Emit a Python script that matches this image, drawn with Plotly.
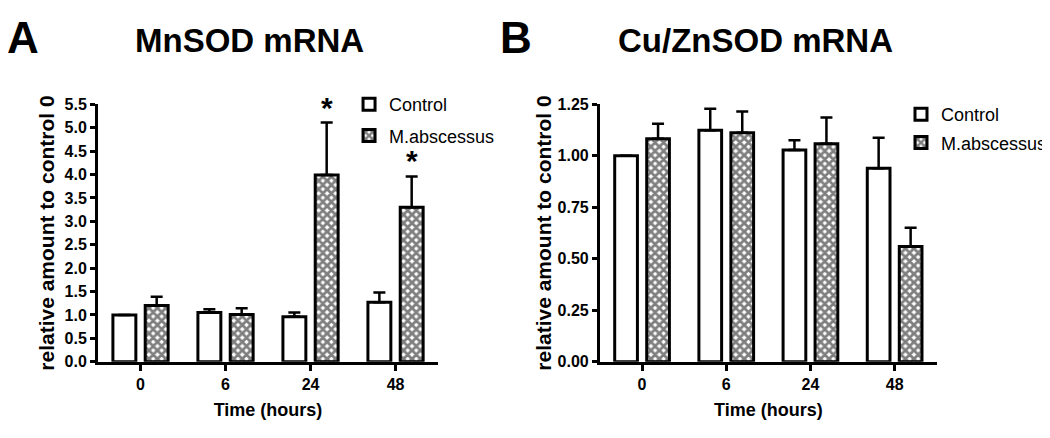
import plotly.graph_objects as go

# ---------------- data ----------------
times = ["0", "6", "24", "48"]

mn_control = [1.00, 1.05, 0.96, 1.27]
mn_control_err = [0.00, 0.07, 0.09, 0.21]
mn_mabs = [1.20, 1.01, 3.99, 3.30]
mn_mabs_err = [0.19, 0.13, 1.12, 0.66]
mn_star_times = ["24", "48"]

cu_control = [1.00, 1.124, 1.028, 0.940]
cu_control_err = [0.00, 0.105, 0.048, 0.148]
cu_mabs = [1.083, 1.112, 1.059, 0.560]
cu_mabs_err = [0.073, 0.103, 0.127, 0.090]

mn_yticks = [0.0, 0.5, 1.0, 1.5, 2.0, 2.5, 3.0, 3.5, 4.0, 4.5, 5.0, 5.5]
cu_yticks = [0.00, 0.25, 0.50, 0.75, 1.00, 1.25]

# ---------------- style ----------------
SANS = "Liberation Sans, Arial, sans-serif"
BARGAP = 0.24
GROUPGAP = 0.29

fig = go.Figure()


def add_pair(ctrl, ctrl_err, mabs, mabs_err, xa, ya, legend, tag):
    fig.add_trace(go.Bar(
        x=times, y=ctrl, name="Control", xaxis=xa, yaxis=ya, legend=legend,
        legendgroup="ctrl" + tag,
        marker=dict(color="white", line=dict(color="black", width=3)),
        error_y=dict(type="data", array=ctrl_err, arrayminus=[0] * len(ctrl),
                     symmetric=False, color="black", thickness=2.5, width=6),
    ))
    fig.add_trace(go.Bar(
        x=times, y=mabs, name="M.abscessus", xaxis=xa, yaxis=ya, legend=legend,
        legendgroup="mabs" + tag,
        marker=dict(color="white", line=dict(color="black", width=3),
                    pattern=dict(shape="x", fgcolor="black", bgcolor="white",
                                 size=6, solidity=0.72)),
        error_y=dict(type="data", array=mabs_err, arrayminus=[0] * len(mabs),
                     symmetric=False, color="black", thickness=2.5, width=6),
    ))


add_pair(mn_control, mn_control_err, mn_mabs, mn_mabs_err, "x", "y", "legend", "A")
add_pair(cu_control, cu_control_err, cu_mabs, cu_mabs_err, "x2", "y2", "legend2", "B")

axis_common = dict(showline=True, linewidth=3, linecolor="black", mirror=False,
                   showgrid=False, zeroline=False, ticks="outside",
                   tickcolor="black", automargin=False)

tickfont = dict(family=SANS, size=16, color="black", weight="bold")
xtitlefont = dict(family=SANS, size=18, color="black", weight="bold")
ytitlefont = dict(family=SANS, size=21, color="black", weight="bold")
legfont = dict(family=SANS, size=18, color="black")

xcommon = dict(axis_common, type="category", ticklen=6, tickwidth=3,
               tickfont=tickfont, range=[-0.5, 3.5])
ycommon = dict(axis_common, ticklen=5, tickwidth=3, tickfont=tickfont)

YDOM = [0.1774, 0.776]

fig.update_layout(
    width=1042, height=430,
    margin=dict(l=0, r=0, t=0, b=0, autoexpand=False),
    paper_bgcolor="white", plot_bgcolor="white",
    barmode="group", bargap=BARGAP, bargroupgap=GROUPGAP,
    xaxis=dict(xcommon, domain=[0.0864, 0.4127], anchor="y",
               title=dict(text="Time (hours)", standoff=12, font=xtitlefont)),
    yaxis=dict(ycommon, domain=YDOM, anchor="x", range=[0, 5.5],
               tickvals=mn_yticks, ticktext=[f"{v:.1f}" for v in mn_yticks],
               title=dict(text="relative amount to control 0", standoff=5, font=ytitlefont)),
    xaxis2=dict(xcommon, domain=[0.5681, 0.8913], anchor="y2",
                title=dict(text="Time (hours)", standoff=12, font=xtitlefont)),
    yaxis2=dict(ycommon, domain=YDOM, anchor="x2", range=[0, 1.25],
                tickvals=cu_yticks, ticktext=[f"{v:.2f}" for v in cu_yticks],
                title=dict(text="relative amount to control 0", standoff=1, font=ytitlefont)),
    legend=dict(x=0.3273, y=0.8186, xanchor="left", yanchor="top",
                bgcolor="rgba(0,0,0,0)", borderwidth=0, traceorder="grouped",
                tracegroupgap=5, font=legfont),
    legend2=dict(x=0.857, y=0.7953, xanchor="left", yanchor="top",
                 bgcolor="rgba(0,0,0,0)", borderwidth=0, traceorder="grouped",
                 tracegroupgap=2, font=legfont),
    showlegend=True,
)

# significance asterisks above M.abscessus bars
offset = (1 - BARGAP) / 4
for t in mn_star_times:
    i = times.index(t)
    fig.add_annotation(x=i + offset, y=mn_mabs[i] + mn_mabs_err[i], xref="x", yref="y",
                       text="*", showarrow=False, yanchor="bottom", yshift=-3,
                       font=dict(family=SANS, size=30, color="black", weight="bold"))

# panel letters and titles
fig.add_annotation(x=-0.003, y=0.994, xref="paper", yref="paper", xanchor="left", yanchor="top",
                   text="A", showarrow=False,
                   font=dict(family=SANS, size=44, color="black", weight="bold"))
fig.add_annotation(x=0.2313, y=0.9714, xref="paper", yref="paper", xanchor="center", yanchor="top",
                   text="MnSOD mRNA", showarrow=False,
                   font=dict(family=SANS, size=33, color="black", weight="bold"))
fig.add_annotation(x=0.4702, y=0.994, xref="paper", yref="paper", xanchor="left", yanchor="top",
                   text="B", showarrow=False,
                   font=dict(family=SANS, size=44, color="black", weight="bold"))
fig.add_annotation(x=0.7169, y=0.9714, xref="paper", yref="paper", xanchor="center", yanchor="top",
                   text="Cu/ZnSOD mRNA", showarrow=False,
                   font=dict(family=SANS, size=33, color="black", weight="bold"))

fig.write_html("out.html")
